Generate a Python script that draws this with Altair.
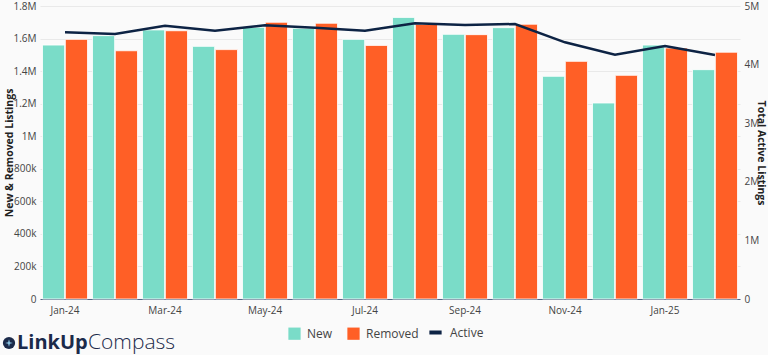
import altair as alt
import pandas as pd

months = ["Jan-24", "Feb-24", "Mar-24", "Apr-24", "May-24", "Jun-24", "Jul-24",
          "Aug-24", "Sep-24", "Oct-24", "Nov-24", "Dec-24", "Jan-25", "Feb-25"]
new_listings = [1560000, 1618000, 1653000, 1552000, 1669000, 1663000, 1595000,
                1730000, 1626000, 1667000, 1368000, 1204000, 1560000, 1409000]
removed_listings = [1595000, 1525000, 1648000, 1532000, 1700000, 1694000, 1558000,
                    1688000, 1624000, 1688000, 1460000, 1374000, 1542000, 1516000]
active_listings = [4551000, 4522000, 4664000, 4579000, 4670000, 4630000, 4579000,
                   4704000, 4676000, 4693000, 4380000, 4169000, 4317000, 4164000]
tick_months = ["Jan-24", "Mar-24", "May-24", "Jul-24", "Sep-24", "Nov-24", "Jan-25"]
left_ticks = [0, 200000, 400000, 600000, 800000, 1000000, 1200000, 1400000, 1600000, 1800000]
right_ticks = [0, 1000000, 2000000, 3000000, 4000000, 5000000]

FONT = "Open Sans"
GREEN = "#7ADCC8"
ORANGE = "#FF5F26"
NAVY = "#0D2344"

LABEL_EXPR = ("datum.value >= 1000000 ? format(datum.value / 1000000, '~g') + 'M' : "
              "(datum.value > 0 ? format(datum.value / 1000, '~g') + 'k' : '0')")

bars_df = pd.DataFrame(
    [{"month": m, "series": "New", "value": v} for m, v in zip(months, new_listings)]
    + [{"month": m, "series": "Removed", "value": v} for m, v in zip(months, removed_listings)]
)
line_df = pd.DataFrame({"month": months, "active": active_listings, "series": ["Active"] * len(months)})

x_enc = alt.X(
    "month:N", sort=months, title=None,
    scale=alt.Scale(paddingInner=0.1, paddingOuter=0.05),
    axis=alt.Axis(values=tick_months, labelAngle=0, ticks=False, domain=True,
                  domainColor="#506784", domainWidth=1, labelColor="#444",
                  labelFontSize=10, labelFont=FONT, labelPadding=6, grid=False),
)

bars = alt.Chart(bars_df).mark_bar(stroke="white", strokeWidth=0.8).encode(
    x=x_enc,
    xOffset=alt.XOffset("series:N", sort=["New", "Removed"],
                        scale=alt.Scale(paddingInner=0.03)),
    y=alt.Y("value:Q", title="New & Removed Listings",
            scale=alt.Scale(domain=[0, 1800000], nice=False),
            axis=alt.Axis(values=left_ticks, labelExpr=LABEL_EXPR, labelOverlap=False,
                          ticks=False, domain=False, labelColor="#444",
                          labelFontSize=10, labelFont=FONT, labelPadding=4,
                          gridColor="#E9E9E9", gridWidth=1,
                          titleFont=FONT, titleFontSize=10.5, titleFontWeight="bold",
                          titleColor="#222", titleX=-26)),
    color=alt.Color("series:N", sort=["New", "Removed"],
                    scale=alt.Scale(domain=["New", "Removed"], range=[GREEN, ORANGE]),
                    legend=alt.Legend(title=None, orient="none", direction="horizontal",
                                      legendX=248, legendY=321, symbolType="square",
                                      symbolSize=150, symbolStrokeWidth=0,
                                      symbolOpacity=1, labelFont=FONT, labelFontSize=12,
                                      labelColor="#444", columnPadding=14, padding=0,
                                      labelOffset=6)),
)

line = alt.Chart(line_df).mark_line(strokeWidth=2.5).encode(
    x=alt.X("month:N", sort=months),
    y=alt.Y("active:Q", title="Total Active Listings",
            scale=alt.Scale(domain=[0, 5000000], nice=False),
            axis=alt.Axis(orient="right", values=right_ticks, labelExpr=LABEL_EXPR,
                          labelOverlap=False,
                          ticks=False, domain=False, grid=False, labelColor="#444",
                          labelFontSize=10, labelFont=FONT, labelPadding=4,
                          titleFont=FONT, titleFontSize=10.5, titleFontWeight="bold",
                          titleColor="#222", titleX=15)),
    stroke=alt.Stroke("series:N", scale=alt.Scale(domain=["Active"], range=[NAVY]),
                      legend=alt.Legend(title=None, orient="none", legendX=387, legendY=318,
                                        symbolType="stroke", symbolSize=150,
                                        symbolStrokeWidth=4, labelFont=FONT,
                                        labelFontSize=12, labelColor="#444",
                                        padding=0, labelOffset=6)),
)

logo_df = pd.DataFrame({"a": ["LinkUp"], "b": ["Compass"]})
logo_circle = alt.Chart(logo_df).mark_circle(size=150, color="#1B2A4A", opacity=1).encode(
    x=alt.value(-31), y=alt.value(337))
logo_star = alt.Chart(logo_df).mark_point(
    shape="M0,-1L0.22,-0.22L1,0L0.22,0.22L0,1L-0.22,0.22L-1,0L-0.22,-0.22Z",
    size=60, filled=True, color="#8EC9E8", opacity=1).encode(
    x=alt.value(-31), y=alt.value(337))
logo_a = alt.Chart(logo_df).mark_text(font=FONT, fontSize=20, fontWeight="bold",
                                      color="#1B2A4A", align="left", baseline="middle").encode(
    text="a:N", x=alt.value(-23), y=alt.value(337))
logo_b = alt.Chart(logo_df).mark_text(font=FONT, fontSize=21, fontWeight=300,
                                      color="#1B2A4A", align="left", baseline="middle").encode(
    text="b:N", x=alt.value(48), y=alt.value(337))

chart = alt.layer(bars, line, logo_circle, logo_star, logo_a, logo_b).resolve_scale(
    y="independent"
).properties(
    width=700, height=293,
    autosize=alt.AutoSizeParams(type="none"),
    padding={"left": 40, "top": 6, "right": 28, "bottom": 56},
    background="#FAFAFA",
).configure_view(stroke=None)

chart.save("out.html", embed_options={"renderer": "svg", "actions": False})
